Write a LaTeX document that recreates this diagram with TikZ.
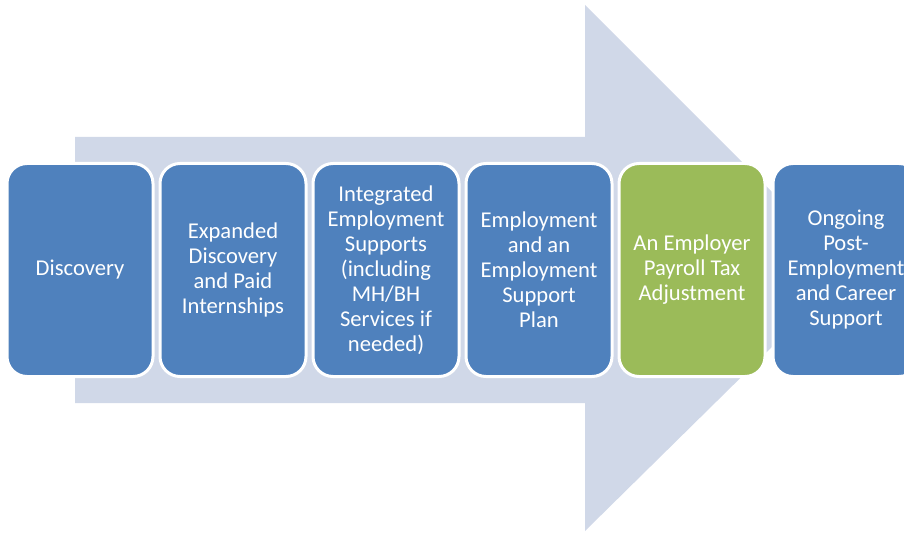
\documentclass[tikz,border=0pt]{standalone}
\usepackage{fontspec}
\setmainfont{Carlito}
\usepackage{tikz}
\usepackage{xcolor}
\definecolor{steelblue}{RGB}{79,129,189}
\definecolor{olivegreen}{RGB}{155,187,89}
\definecolor{lavender}{RGB}{208,216,232}
\tikzset{%
    stage/.style={%
        rectangle, rounded corners=20pt, fill=steelblue, draw=white,
        line width=3pt, minimum width=146pt, minimum height=213pt,
        inner sep=0pt, text=white, align=center,
        font=\fontsize{22.6}{25}\selectfont
    }
}
\begin{document}
\begin{tikzpicture}[x=1pt,y=1pt]
\useasboundingbox (0,0) rectangle (904,533);
% big arrow behind the stages
\fill[lavender] (75,130) -- (585,130) -- (585,2) -- (850,263) -- (585,528) -- (585,396) -- (75,396) -- cycle;

\node[stage] (disc) at (80,263) {Discovery};
\node[stage] (intern) at (233,263) {Expanded\\Discovery\\and Paid\\Internships};
\node[stage] (supp) at (386,263) {Integrated\\Employment\\Supports\\(including\\MH/BH\\Services if\\needed)};
\node[stage] (plan) at (539,263) {Employment\\and an\\Employment\\Support\\Plan};
\node[stage, fill=olivegreen] (tax) at (692,263) {An Employer\\Payroll Tax\\Adjustment};
\node[stage] (post) at (846,263) {Ongoing\\Post-\\Employment\\and Career\\Support};
\end{tikzpicture}
\end{document}
